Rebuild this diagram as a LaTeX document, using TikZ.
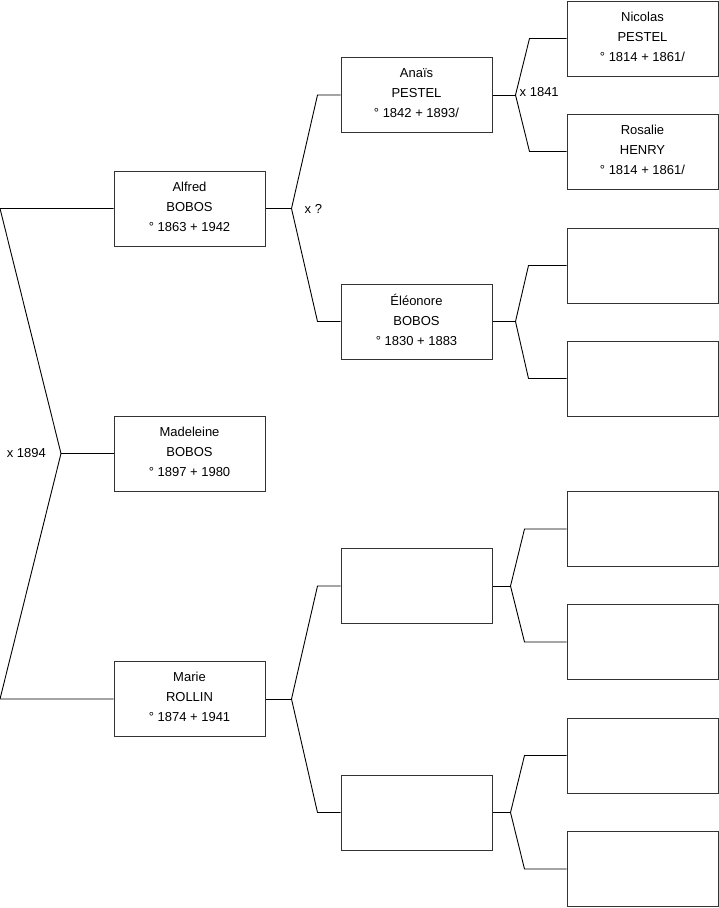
\documentclass[tikz,border=0pt]{standalone}
\usepackage{fontspec}
\setmainfont{Liberation Sans}
\usetikzlibrary{positioning}

\begin{document}
\begin{tikzpicture}[
        x=1pt, y=-1pt,
        person/.style={rectangle, draw=black!80, line width=1pt, fill=white,
            minimum width=151pt, minimum height=75pt, inner sep=0pt,
            align=center, text depth=4pt, font=\fontsize{13}{20}\selectfont},
        link/.style={draw, line width=0.9pt, line join=miter},
        union/.style={inner sep=0pt, font=\fontsize{13}{16}\selectfont}
    ]
    \useasboundingbox (0,0) rectangle (719,908);

    % generation 1
    \node [person] (alfred) at (189.5,208.5) {Alfred\\BOBOS\\° 1863 + 1942};
    \node [person] (madeleine) at (189.5,453.5) {Madeleine\\BOBOS\\° 1897 + 1980};
    \node [person] (marie) at (189.5,699) {Marie\\ROLLIN\\° 1874 + 1941};

    % generation 2
    \node [person] (anais) at (416.5,95) {Anaïs\\PESTEL\\° 1842 + 1893/};
    \node [person] (eleonore) at (416.5,321.5) {Éléonore\\BOBOS\\° 1830 + 1883};
    \node [person] (s6) at (416.5,586) {};
    \node [person] (s7) at (416.5,812.5) {};

    % generation 3
    \node [person] (nicolas) at (642.5,38.5) {Nicolas\\PESTEL\\° 1814 + 1861/};
    \node [person] (rosalie) at (642.5,151.5) {Rosalie\\HENRY\\° 1814 + 1861/};
    \node [person] (s10) at (642.5,265.5) {};
    \node [person] (s11) at (642.5,378.5) {};
    \node [person] (s12) at (642.5,529) {};
    \node [person] (s13) at (642.5,642) {};
    \node [person] (s14) at (642.5,755.5) {};
    \node [person] (s15) at (642.5,869) {};

    % forks
    \coordinate (f1) at (61,453.5);
    \coordinate (l2) at (0,208.5);
    \coordinate (l3) at (0,699);
    \coordinate (f2) at ([xshift=26pt]alfred.east);
    \coordinate (f3) at ([xshift=26pt]marie.east);
    \coordinate (f4) at ([xshift=23pt]anais.east);
    \coordinate (f5) at ([xshift=23pt]eleonore.east);
    \coordinate (f6) at ([xshift=18pt]s6.east);
    \coordinate (f7) at ([xshift=18pt]s7.east);

    \path [link] (alfred.west) -- (l2) -- (f1) -- (l3) -- (marie.west);
    \path [link] (f1) -- (madeleine.west);

    \path [link] (alfred.east) -- (f2);
    \path [link] (f2) -- ([xshift=-23pt]anais.west) -- (anais.west);
    \path [link] (f2) -- ([xshift=-23pt]eleonore.west) -- (eleonore.west);
    \path [link] (marie.east) -- (f3);
    \path [link] (f3) -- ([xshift=-23pt]s6.west) -- (s6.west);
    \path [link] (f3) -- ([xshift=-23pt]s7.west) -- (s7.west);

    \path [link] (anais.east) -- (f4);
    \path [link] (f4) -- ([xshift=-37pt]nicolas.west) -- (nicolas.west);
    \path [link] (f4) -- ([xshift=-37pt]rosalie.west) -- (rosalie.west);
    \path [link] (eleonore.east) -- (f5);
    \path [link] (f5) -- ([xshift=-38pt]s10.west) -- (s10.west);
    \path [link] (f5) -- ([xshift=-38pt]s11.west) -- (s11.west);
    \path [link] (s6.east) -- (f6);
    \path [link] (f6) -- ([xshift=-42pt]s12.west) -- (s12.west);
    \path [link] (f6) -- ([xshift=-42pt]s13.west) -- (s13.west);
    \path [link] (s7.east) -- (f7);
    \path [link] (f7) -- ([xshift=-42pt]s14.west) -- (s14.west);
    \path [link] (f7) -- ([xshift=-42pt]s15.west) -- (s15.west);

    % marriages
    \node [union, left=15pt of f1] (m1) {x 1894};
    \node [union, right=13pt of f2] (m2) {x ?};
    \node [union, right=4pt of f4, yshift=3pt] (m4) {x 1841};
\end{tikzpicture}
\end{document}
